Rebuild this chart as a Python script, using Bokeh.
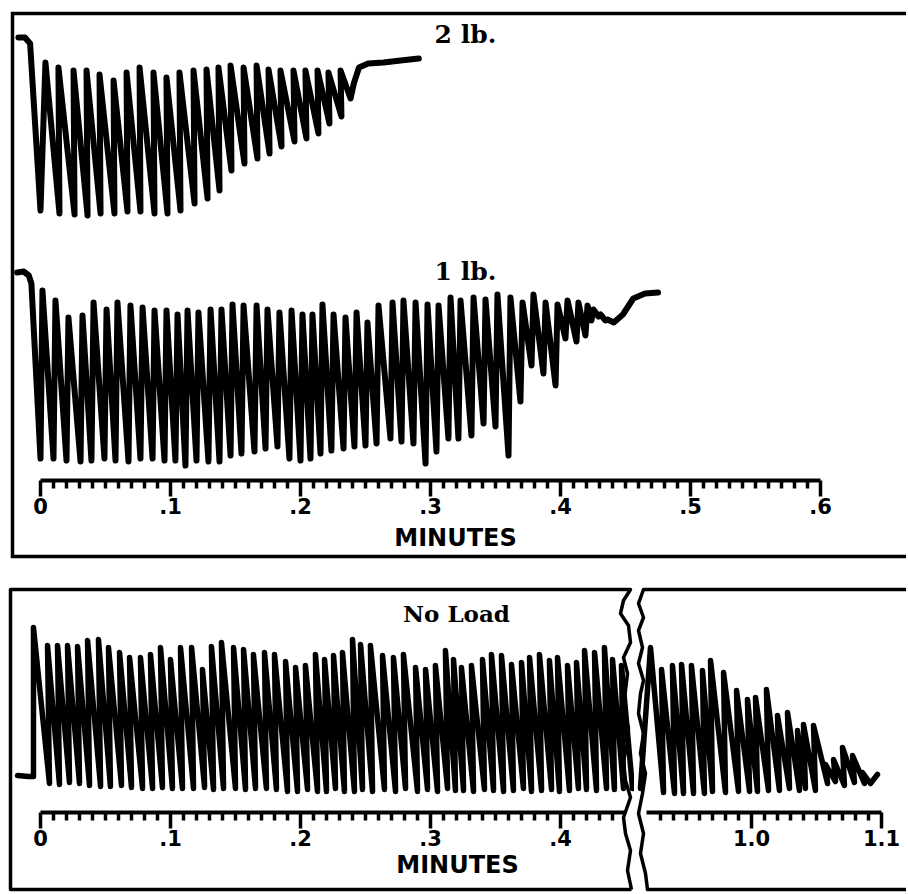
from bokeh.plotting import figure
from bokeh.models import Range1d, LinearAxis, FixedTicker, Label
from bokeh.layouts import column, row
from bokeh.embed import file_html
from bokeh.resources import INLINE

# ---------------- DATA (time in minutes, pen height above time line) ----------------
# 2 lb. load
lb2_hook_t = [-0.017, -0.012, -0.008]
lb2_hook_h = [443, 443, 437]
lb2_trough_t = [0.0000, 0.0146, 0.0262, 0.0362, 0.0462, 0.0569, 0.0669, 0.0769, 0.0877,
                0.0977, 0.1077, 0.1185, 0.1285, 0.1377, 0.1469, 0.1569, 0.1669, 0.1762,
                0.1854, 0.1954, 0.2046, 0.2138, 0.2223, 0.2315, 0.2385]
lb2_trough_h = [270, 267, 266, 265, 267, 267, 269, 269, 267, 267, 270, 277, 282, 290, 310,
                317, 322, 327, 334, 339, 342, 347, 357, 364, 382]
lb2_peak_t = [0.0038, 0.0138, 0.0254, 0.0354, 0.0454, 0.0562, 0.0662, 0.0762, 0.0869,
              0.0969, 0.1069, 0.1177, 0.1277, 0.1369, 0.1462, 0.1562, 0.1662, 0.1754,
              0.1846, 0.1946, 0.2038, 0.2131, 0.2215, 0.2308]
lb2_peak_h = [418, 413, 410, 410, 406, 400, 408, 413, 408, 403, 408, 410, 411, 413, 415,
              413, 415, 411, 410, 410, 410, 410, 408, 410]
lb2_tail_t = [0.241, 0.245, 0.252, 0.264, 0.277, 0.291]
lb2_tail_h = [397, 413, 417, 418, 420, 422]

# 1 lb. load
lb1_hook_t = [-0.018, -0.013, -0.009, -0.007]
lb1_hook_h = [208, 209, 205, 197]
lb1_trough_t = [0.0000, 0.0100, 0.0200, 0.0308, 0.0392, 0.0492, 0.0577, 0.0677, 0.0769,
                0.0862, 0.0954, 0.1038, 0.1115, 0.1200, 0.1292, 0.1377, 0.1462, 0.1546,
                0.1646, 0.1731, 0.1823, 0.1915, 0.2000, 0.2077, 0.2154, 0.2238, 0.2331,
                0.2415, 0.2500, 0.2585, 0.2692, 0.2777, 0.2869, 0.2962, 0.3046, 0.3138,
                0.3215, 0.3315, 0.3408, 0.3500, 0.3600, 0.3692, 0.3777, 0.3869, 0.3962,
                0.4038, 0.4123, 0.4192, 0.4238, 0.4292, 0.4346]
lb1_trough_h = [22, 22, 20, 19, 20, 22, 20, 19, 22, 22, 20, 20, 15, 20, 19, 19, 25, 27,
                29, 32, 34, 22, 20, 22, 27, 30, 32, 34, 35, 37, 42, 39, 37, 17, 29, 42,
                42, 45, 57, 54, 25, 79, 115, 107, 95, 142, 139, 145, 160, 164, 160]
lb1_peak_t = [0.0015, 0.0115, 0.0215, 0.0323, 0.0408, 0.0508, 0.0592, 0.0692, 0.0785,
              0.0877, 0.0969, 0.1054, 0.1131, 0.1215, 0.1308, 0.1392, 0.1477, 0.1562,
              0.1662, 0.1746, 0.1838, 0.1931, 0.2015, 0.2092, 0.2169, 0.2254, 0.2346,
              0.2431, 0.2515, 0.2600, 0.2708, 0.2792, 0.2885, 0.2977, 0.3062, 0.3154,
              0.3231, 0.3331, 0.3423, 0.3515, 0.3615, 0.3708, 0.3792, 0.3885, 0.3977,
              0.4054, 0.4138, 0.4208, 0.4254, 0.4308, 0.4362]
lb1_peak_h = [190, 180, 163, 165, 178, 171, 178, 175, 173, 170, 170, 166, 170, 168, 171,
              171, 176, 175, 175, 171, 168, 170, 166, 166, 176, 166, 163, 168, 158, 175,
              178, 180, 178, 176, 175, 183, 180, 183, 181, 186, 183, 178, 186, 178, 176,
              180, 178, 175, 171, 166, 161]
lb1_tail_t = [0.441, 0.448, 0.456, 0.465, 0.475]
lb1_tail_h = [158, 166, 182, 187, 188]

# No load, first part (0 - 0.45 min)
nl_hook_t = [-0.0177, -0.0092, -0.0054]
nl_hook_h = [37, 36, 36]
nl_peak_t = [-0.0054, 0.0054, 0.0131, 0.0208, 0.0285, 0.0362, 0.0446, 0.0523, 0.0608,
             0.0685, 0.0769, 0.0846, 0.0923, 0.1000, 0.1077, 0.1162, 0.1246, 0.1315,
             0.1392, 0.1485, 0.1562, 0.1638, 0.1723, 0.1800, 0.1885, 0.1962, 0.2038,
             0.2115, 0.2185, 0.2254, 0.2323, 0.2400, 0.2462, 0.2538, 0.2631, 0.2715,
             0.2792, 0.2885, 0.2962, 0.3038, 0.3115, 0.3177, 0.3238, 0.3315, 0.3400,
             0.3469, 0.3546, 0.3623, 0.3700, 0.3762, 0.3838, 0.3915, 0.3977, 0.4054,
             0.4123, 0.4185, 0.4262, 0.4338, 0.4400, 0.4469]
nl_peak_h = [185, 167, 167, 167, 166, 172, 173, 165, 160, 155, 155, 158, 165, 153, 165,
             165, 143, 166, 170, 165, 163, 158, 160, 158, 151, 145, 147, 158, 153, 157,
             160, 173, 168, 167, 157, 155, 158, 145, 143, 147, 162, 153, 145, 147, 153,
             158, 157, 148, 150, 155, 158, 152, 155, 147, 150, 162, 160, 165, 153, 147]
nl_trough_t = [0.0069, 0.0146, 0.0223, 0.0300, 0.0377, 0.0462, 0.0538, 0.0623, 0.0700,
               0.0785, 0.0862, 0.0938, 0.1015, 0.1092, 0.1177, 0.1262, 0.1331, 0.1408,
               0.1500, 0.1577, 0.1654, 0.1738, 0.1815, 0.1900, 0.1977, 0.2054, 0.2131,
               0.2200, 0.2269, 0.2338, 0.2415, 0.2477, 0.2554, 0.2646, 0.2731, 0.2808,
               0.2900, 0.2977, 0.3054, 0.3131, 0.3192, 0.3254, 0.3331, 0.3415, 0.3485,
               0.3562, 0.3638, 0.3715, 0.3777, 0.3854, 0.3931, 0.3992, 0.4069, 0.4138,
               0.4200, 0.4277, 0.4354, 0.4415, 0.4485, 0.4554]
nl_trough_h = [29, 28, 30, 29, 27, 26, 26, 27, 25, 24, 24, 25, 24, 24, 24, 25, 23, 24,
               24, 23, 24, 24, 23, 21, 21, 23, 21, 21, 24, 21, 21, 23, 21, 23, 21, 24,
               21, 23, 21, 24, 22, 22, 21, 23, 22, 21, 22, 24, 21, 22, 23, 21, 22, 24,
               23, 22, 24, 23, 24, 24]

# No load, late part (0.91 - 1.1 min)
nl2_trough_t = [0.9146, 0.9323, 0.9408, 0.9477, 0.9554, 0.9638, 0.9700, 0.9800, 0.9900,
                0.9985, 1.0046, 1.0131, 1.0215, 1.0292, 1.0369, 1.0415, 1.0492, 1.0585,
                1.0646, 1.0715, 1.0792, 1.0869, 1.0915]
nl2_trough_h = [24, 20, 19, 19, 19, 19, 21, 20, 21, 21, 21, 22, 22, 24, 22, 24, 22, 29,
                31, 27, 30, 29, 29]
nl2_peak_t = [0.9223, 0.9308, 0.9392, 0.9462, 0.9538, 0.9623, 0.9685, 0.9785, 0.9885,
              0.9969, 1.0031, 1.0115, 1.0200, 1.0277, 1.0354, 1.0400, 1.0477, 1.0569,
              1.0631, 1.0700, 1.0777, 1.0854, 1.0969]
nl2_peak_h = [165, 143, 147, 148, 147, 142, 152, 140, 122, 113, 115, 123, 97, 100, 82,
              88, 87, 48, 53, 65, 57, 40, 38]

# Axis ticks / labels
top_major = [0.0, 0.1, 0.2, 0.3, 0.4, 0.5, 0.6]
top_labels = ["0", ".1", ".2", ".3", ".4", ".5", ".6"]
bl_major = [0.0, 0.1, 0.2, 0.3, 0.4]
bl_labels = ["0", ".1", ".2", ".3", ".4"]
br_major = [1.0, 1.1]
br_labels = ["1.0", "1.1"]
minor_step_hundredths = 1  # minor ticks every 0.01 min

# ---------------- helpers ----------------
PX_PER_MIN = 1300.0


def interleave(a_t, a_h, b_t, b_h):
    xs, ys = [], []
    n = max(len(a_t), len(b_t))
    for i in range(n):
        if i < len(a_t):
            xs.append(a_t[i]); ys.append(a_h[i])
        if i < len(b_t):
            xs.append(b_t[i]); ys.append(b_h[i])
    return xs, ys


def minors(lo, hi, majors):
    out = []
    k = int(round(lo * 100))
    while k <= int(round(hi * 100)):
        v = round(k / 100.0, 2)
        if all(abs(v - m) > 1e-6 for m in majors):
            out.append(v)
        k += minor_step_hundredths
    return out


def make_fig(w, h, x0, y0):
    p = figure(width=w, height=h,
               x_range=Range1d(x0, x0 + w / PX_PER_MIN),
               y_range=Range1d(y0, y0 + h),
               output_backend="svg", toolbar_location=None,
               x_axis_type=None, y_axis_type=None, min_border=0,
               outline_line_color=None, background_fill_color="white",
               border_fill_color="white")
    p.min_border_left = p.min_border_right = p.min_border_top = p.min_border_bottom = 0
    return p


def add_ruler(p, majors, labels, minor_list, bounds):
    ax = LinearAxis(fixed_location=0,
                    ticker=FixedTicker(ticks=majors, minor_ticks=minor_list),
                    bounds=bounds,
                    major_label_overrides={m: l for m, l in zip(majors, labels)},
                    axis_line_width=4, axis_line_color="black",
                    major_tick_line_width=3.5, major_tick_line_color="black",
                    major_tick_out=16, major_tick_in=0,
                    minor_tick_line_width=3.5, minor_tick_line_color="black",
                    minor_tick_out=8, minor_tick_in=0,
                    major_label_text_font="DejaVu Sans",
                    major_label_text_font_style="bold",
                    major_label_text_font_size="21px",
                    major_label_text_color="black",
                    major_label_standoff=1)
    p.add_layout(ax, "below")


TRACE_HEAVY = dict(line_color="black", line_width=6, line_join="round", line_cap="round")
TRACE = dict(line_color="black", line_width=5.5, line_join="round", line_cap="round")
TXT_SERIF = dict(text_font="DejaVu Serif", text_font_style="bold", text_color="black",
                 text_align="center", text_baseline="middle")
TXT_SANS = dict(text_font="DejaVu Sans", text_font_style="bold", text_color="black",
                text_align="center", text_baseline="middle")

# canvas: 906 x 892 ; top panel 572 tall, bottom panels 320 tall
W_ALL, H_TOP, H_BOT, W_BL = 906, 572, 320, 634

# ---------------- top panel (2 lb, 1 lb) ----------------
top = make_fig(W_ALL, H_TOP, -40 / PX_PER_MIN, 480 - H_TOP)


def tpx(px, py):
    return (px - 40) / PX_PER_MIN, 480 - py


xs, ys = interleave(lb2_trough_t, lb2_trough_h, lb2_peak_t, lb2_peak_h)
top.line(lb2_hook_t + xs + lb2_tail_t, lb2_hook_h + ys + lb2_tail_h, **TRACE_HEAVY)
xs, ys = interleave(lb1_trough_t, lb1_trough_h, lb1_peak_t, lb1_peak_h)
top.line(lb1_hook_t + xs + lb1_tail_t, lb1_hook_h + ys + lb1_tail_h, **TRACE_HEAVY)

add_ruler(top, top_major, top_labels, minors(0.0, 0.6, top_major), (0.0, 0.6))

frame_top = [tpx(*q) for q in [(930, 13), (12, 13), (12, 556), (930, 556)]]
top.line([q[0] for q in frame_top], [q[1] for q in frame_top],
         line_color="black", line_width=3.5, line_join="miter")

for txt, (px, py) in [("2 lb.", (465, 34)), ("1 lb.", (465, 271))]:
    x, y = tpx(px, py)
    top.add_layout(Label(x=x, y=y, text=txt, text_font_size="25px", **TXT_SERIF))
x, y = tpx(455, 537)
top.add_layout(Label(x=x, y=y, text="MINUTES", text_font_size="24px", **TXT_SANS))

# ---------------- bottom panels (no load, broken time axis) ----------------
bl = make_fig(W_BL, H_BOT, -40 / PX_PER_MIN, 812 - (H_TOP + H_BOT))
br = make_fig(W_ALL - W_BL, H_BOT, 1.0 + (W_BL - 751) / PX_PER_MIN, 812 - (H_TOP + H_BOT))


def blpx(px, py):
    return (px - 40) / PX_PER_MIN, 812 - py


def brpx(px, py):
    return 1.0 + (px - 751) / PX_PER_MIN, 812 - py


xs, ys = interleave(nl_peak_t, nl_peak_h, nl_trough_t, nl_trough_h)
bl.line(nl_hook_t + xs, nl_hook_h + ys, **TRACE)
xs, ys = interleave(nl2_trough_t, nl2_trough_h, nl2_peak_t, nl2_peak_h)
br.line(xs, ys, **TRACE)

add_ruler(bl, bl_major, bl_labels, minors(0.01, 0.44, bl_major), (0.0, 0.449))
add_ruler(br, br_major, br_labels, minors(0.93, 1.1, br_major), (0.919, 1.1))

zig_left = [(630, 589), (623, 600), (620, 613), (628, 625), (630, 642), (623, 657),
            (627, 673), (625, 690), (622, 710), (628, 727), (627, 743), (623, 760),
            (625, 780), (630, 797), (623, 817), (625, 833), (630, 850), (627, 870),
            (631, 889)]
zig_right = [(643, 589), (638, 603), (643, 617), (638, 630), (642, 647), (638, 663),
             (643, 680), (640, 693), (638, 713), (643, 733), (640, 753), (645, 773),
             (642, 793), (638, 813), (643, 833), (640, 853), (645, 873), (647, 889)]

fl = [blpx(*q) for q in [(631, 889), (10, 889), (10, 589)] + zig_left]
bl.line([q[0] for q in fl], [q[1] for q in fl], line_color="black", line_width=3.5,
        line_join="round")
fr = [brpx(*q) for q in [(930, 589)] + zig_right + [(930, 889)]]
br.line([q[0] for q in fr], [q[1] for q in fr], line_color="black", line_width=3.5,
        line_join="round")

x, y = blpx(456, 613)
bl.add_layout(Label(x=x, y=y, text="No Load", text_font_size="23px", **TXT_SERIF))
x, y = blpx(457, 864)
bl.add_layout(Label(x=x, y=y, text="MINUTES", text_font_size="24px", **TXT_SANS))

layout = column(top, row(bl, br, spacing=0), spacing=0)

open("out.html", "w").write(file_html(layout, INLINE))
